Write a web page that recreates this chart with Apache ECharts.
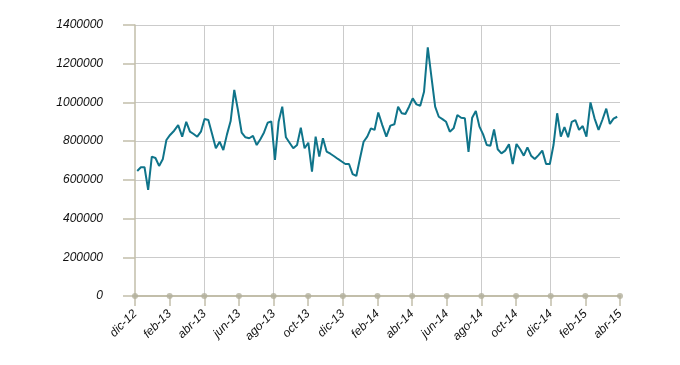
<!DOCTYPE html>
<html>
<head>
<meta charset="utf-8">
<script src="https://cdn.jsdelivr.net/npm/echarts@6/dist/echarts.min.js"></script>
<style>
html,body{margin:0;padding:0;background:#fff;}
#c{width:680px;height:365px;}
</style>
</head>
<body>
<div id="c"></div>
<script>
// Tick labels on the x axis (every 2 months, starting dic-12)
const tickLabels = ['dic-12','feb-13','abr-13','jun-13','ago-13','oct-13','dic-13','feb-14','abr-14','jun-14','ago-14','oct-14','dic-14','feb-15','abr-15'];
const tickMonths = [0,2,4,6,8,10,12,14,16,18,20,22,24,26,28];
// Sampling period of the series (points evenly spread between these dates)
const firstDate = '2012-12-05';
const lastDate = '2015-03-27';
// Series values
const values = [
  646000,665000,665000,548000,720000,713000,672000,706000,806000,832000,
  854000,883000,823000,900000,849000,837000,823000,849000,914000,909000,
  837000,763000,797000,754000,835000,904000,1065000,961000,844000,820000,
  815000,827000,780000,810000,845000,895000,902000,703000,900000,978000,
  820000,792000,763000,780000,870000,763000,792000,642000,823000,720000,
  815000,746000,735000,722000,708000,695000,682000,682000,630000,620000,
  710000,797000,823000,866000,858000,948000,883000,823000,880000,887000,
  978000,944000,940000,978000,1021000,990000,983000,1055000,1285000,1130000,
  978000,926000,914000,900000,849000,866000,935000,921000,918000,745000,
  921000,956000,875000,835000,780000,776000,860000,758000,737000,751000,
  784000,682000,785000,758000,725000,768000,725000,708000,728000,751000,
  682000,682000,780000,944000,823000,872000,820000,900000,909000,858000,
  878000,823000,1000000,918000,858000,913000,968000,889000,916000,926000
];

// convert a timestamp to fractional months since 1 Dec 2012
function monthsSince(t){
  const d = new Date(t);
  const y = d.getUTCFullYear(), m = d.getUTCMonth();
  const dim = new Date(Date.UTC(y, m+1, 0)).getUTCDate();
  const frac = (d.getUTCDate()-1 + (d.getUTCHours()/24)) / dim;
  return (y-2012)*12 + m - 11 + frac;
}
const t0 = Date.parse(firstDate+'T00:00:00Z'), t1 = Date.parse(lastDate+'T00:00:00Z');
const n = values.length;
const lineData = values.map((v,i)=>[monthsSince(t0 + (t1-t0)*i/(n-1)), v]);

const beige = '#c2beaa';
const grid = '#cbcbcb';
const labelStyle = {fontFamily:'Arial', fontStyle:'italic', fontWeight:'normal', fontSize:12, color:'#111'};

const chart = echarts.init(document.getElementById('c'), null, {renderer:'canvas'});
chart.setOption({
  animation:false,
  backgroundColor:'#fff',
  textStyle:{fontFamily:'Arial', fontSize:12},
  grid:{left:135, right:60, top:25, bottom:69, containLabel:false},
  xAxis:[{
    type:'value', min:0, max:28, interval:2, position:'bottom',
    axisLine:{show:true, onZero:false, lineStyle:{color:beige, width:2}},
    axisTick:{show:true, length:10, lineStyle:{color:beige, width:1.5}},
    splitLine:{show:false},
    axisLabel:Object.assign({
      show:true, rotate:45, margin:16,
      showMinLabel:true, showMaxLabel:true,
      formatter:(v)=> tickLabels[tickMonths.indexOf(Math.round(v))] || ''
    }, labelStyle)
  },{
    type:'value', min:0, max:28, interval:4, position:'top',
    axisLine:{show:false}, axisTick:{show:false}, axisLabel:{show:false},
    splitLine:{show:true, showMinLine:false, showMaxLine:false, lineStyle:{color:grid, width:1}}
  }],
  yAxis:[{
    type:'value', min:0, max:1400000, interval:200000, offset:15,
    axisLine:{show:false},
    axisTick:{show:true, length:12, lineStyle:{color:beige, width:1.5}},
    splitLine:{show:true, lineStyle:{color:grid, width:1}},
    axisLabel:Object.assign({margin:17, formatter:(v)=> String(v)}, labelStyle)
  },{
    type:'value', min:0, max:1400000, interval:200000, position:'left', offset:0,
    axisLine:{show:true, lineStyle:{color:beige, width:1.5}},
    axisTick:{show:false}, axisLabel:{show:false}, splitLine:{show:false}
  }],
  series:[{
    type:'line', xAxisIndex:0, yAxisIndex:0,
    data: lineData, showSymbol:false, symbol:'none', smooth:false,
    lineStyle:{color:'#0f748a', width:2}, z:3
  },{
    type:'scatter', xAxisIndex:0, yAxisIndex:0, clip:false, silent:true,
    data: tickMonths.map(m=>[m,0]), symbol:'circle', symbolSize:6,
    itemStyle:{color:'#b3b09c'}, z:5
  }]
});
</script>
</body>
</html>
